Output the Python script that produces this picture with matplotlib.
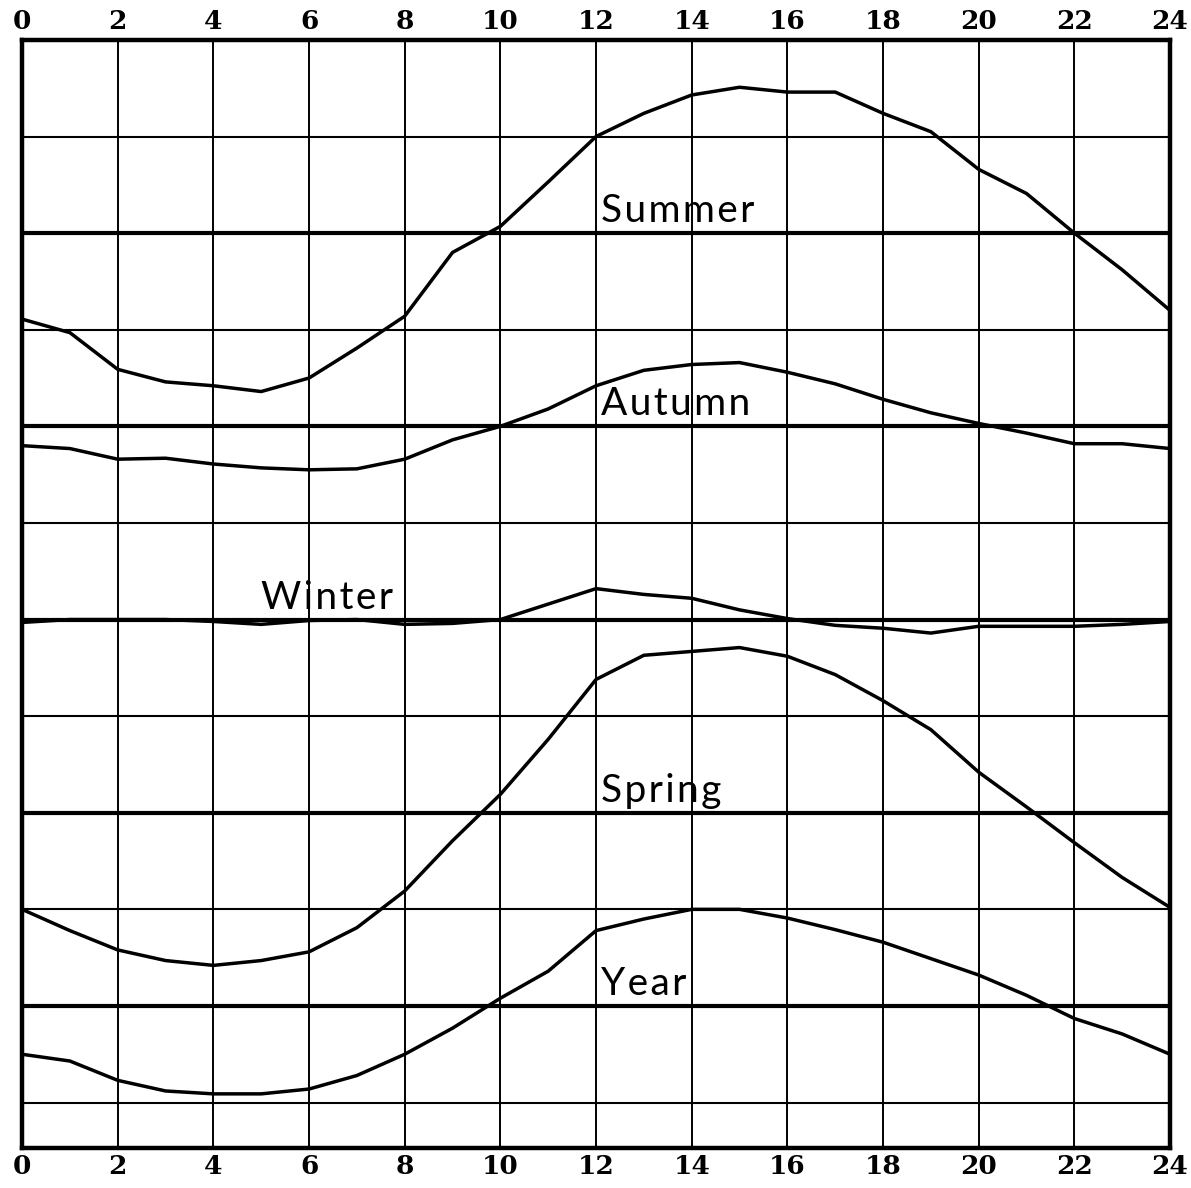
import matplotlib.pyplot as plt
import numpy as np

# hour of day
hours = list(range(25))

# curves, in grid units (horizontal rulings at 0..10)
summer = [8.11, 7.97, 7.59, 7.46, 7.42, 7.36, 7.50, 7.81, 8.14, 8.80, 9.07, 9.53, 10.0,
          10.24, 10.43, 10.51, 10.46, 10.46, 10.24, 10.05, 9.66, 9.41, 9.0, 8.62, 8.2]
autumn = [6.80, 6.77, 6.66, 6.67, 6.61, 6.57, 6.55, 6.56, 6.66, 6.86, 7.0, 7.18, 7.42,
          7.58, 7.64, 7.66, 7.56, 7.44, 7.28, 7.14, 7.03, 6.93, 6.82, 6.82, 6.77]
winter = [4.97, 5.0, 5.0, 5.0, 4.98, 4.95, 4.99, 5.0, 4.95, 4.96, 5.0, 5.16, 5.32,
          5.26, 5.22, 5.10, 5.01, 4.94, 4.91, 4.86, 4.93, 4.93, 4.93, 4.95, 4.98]
spring = [2.0, 1.78, 1.58, 1.47, 1.42, 1.47, 1.56, 1.81, 2.19, 2.71, 3.19, 3.76, 4.38,
          4.63, 4.67, 4.71, 4.62, 4.43, 4.16, 3.86, 3.42, 3.06, 2.69, 2.33, 2.02]
year = [0.50, 0.43, 0.23, 0.12, 0.09, 0.09, 0.14, 0.28, 0.50, 0.77, 1.08, 1.36, 1.78,
        1.90, 2.0, 2.0, 1.91, 1.79, 1.66, 1.49, 1.32, 1.11, 0.87, 0.71, 0.50]

series = [summer, autumn, winter, spring, year]
names = ["Summer", "Autumn", "Winter", "Spring", "Year"]
baselines = [9, 7, 5, 3, 1]
label_x = [12.1, 12.1, 5.0, 12.1, 12.1]
xticks = list(range(0, 25, 2))

fig = plt.figure(figsize=(11.91, 11.88), dpi=100)
ax = fig.add_axes([0.0185, 0.0337, 0.9639, 0.9327])
ax.set_xlim(0, 24)
ax.set_ylim(-0.47, 11)

# grid
for x in xticks[1:-1]:
    ax.axvline(x, color="black", lw=1.4, zorder=1)
for y in range(11):
    ax.axhline(y, color="black", lw=3.0 if y in baselines else 1.5, zorder=1)

for vals, name, base, lx in zip(series, names, baselines, label_x):
    ax.plot(hours, vals, color="black", lw=2.5, zorder=3)
    ax.text(lx, base + 0.04, "\u200a".join(name), fontsize=28, family="Lato",
            ha="left", va="bottom", zorder=4)

for s in ax.spines.values():
    s.set_linewidth(3.2)

ax.set_xticks(xticks)
ax.set_xticklabels([str(t) for t in xticks], fontsize=19, fontweight="bold",
                   family="DejaVu Serif")
ax.tick_params(axis="x", length=0, pad=4, labeltop=True, top=False)
ax.set_yticks([])

fig.savefig("out.png", dpi=100)
